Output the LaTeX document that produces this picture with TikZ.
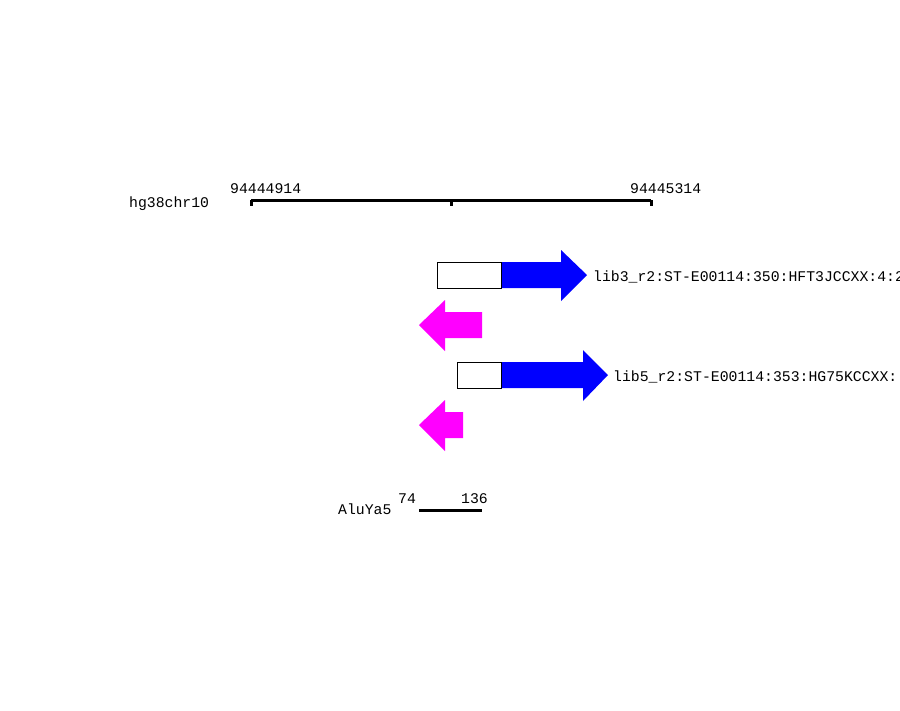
\documentclass[tikz,border=0pt]{standalone}
\usepackage{fontspec}
\setmonofont{Liberation Mono}
\tikzset{
  lbl/.style={font=\ttfamily\fontsize{14.8}{17}\selectfont, inner sep=0pt, anchor=base west},
  rule/.style={line width=3pt},
  fwd/.style={fill={rgb,255:red,0;green,0;blue,255}},
  rev/.style={fill={rgb,255:red,255;green,0;blue,255}},
  clipbox/.style={draw=black, fill=white, line width=1pt}
}
\begin{document}
\begin{tikzpicture}[x=1pt,y=-1pt]
\useasboundingbox (0,0) rectangle (900,710);
\clip (0,0) rectangle (900,710);
% ruler
\coordinate (rl) at (251,200);
\coordinate (rm) at (451,200);
\coordinate (rr) at (651,200);
\draw[rule] (rl) -- (rr);
\foreach \t in {rl,rm,rr} \draw[rule] (\t) -- ++(0,6);
\node[lbl] (chr) at (129,207) {hg38chr10};
\node[lbl] (start) at (230,193) {94444914};
\node[lbl] (end) at (630,193) {94445314};
% read 1
\fill[fwd] (501,262) -- (561,262) -- (561,250) -- (587,275) -- (561,301) -- (561,288) -- (501,288) -- cycle;
\draw[clipbox] (437,262) rectangle (501,288);
\node[lbl] (r1) at (593,281) {lib3\_r2:ST-E00114:350:HFT3JCCXX:4:2};
\fill[rev] (482,312) -- (445,312) -- (445,300) -- (419,325) -- (445,351) -- (445,338) -- (482,338) -- cycle;
% read 2
\fill[fwd] (501,362) -- (583,362) -- (583,350) -- (608,375) -- (583,401) -- (583,388) -- (501,388) -- cycle;
\draw[clipbox] (457,362) rectangle (501,388);
\node[lbl] (r2) at (613,381) {lib5\_r2:ST-E00114:353:HG75KCCXX:};
\fill[rev] (463,412) -- (445,412) -- (445,400) -- (419,425) -- (445,451) -- (445,438) -- (463,438) -- cycle;
% repeat
\coordinate (al) at (419,510);
\coordinate (ar) at (482,510);
\draw[rule] (al) -- (ar);
\node[lbl] (alu) at (338,514) {AluYa5};
\node[lbl] (alus) at (398,503) {74};
\node[lbl] (alue) at (461,503) {136};
\end{tikzpicture}
\end{document}
